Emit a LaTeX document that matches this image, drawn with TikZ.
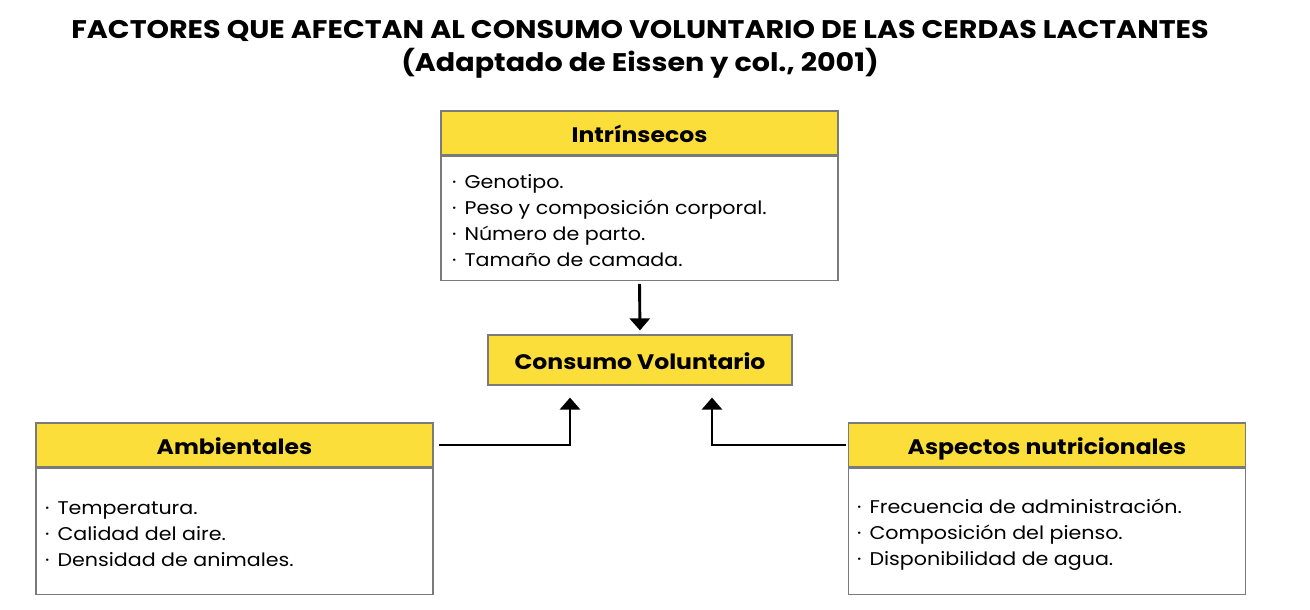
\documentclass[tikz,border=0pt]{standalone}
\usepackage{fontspec}
\setmainfont{Poppins}[FakeStretch=1.12]
\usetikzlibrary{arrows.meta,positioning}
\definecolor{Amarillo}{HTML}{FCDE3B}
\definecolor{Borde}{HTML}{7A7A7A}

\begin{document}
\begin{tikzpicture}[x=1pt,y=-1pt]
	\tikzstyle{Head}	= [rectangle, draw=Borde, fill=Amarillo, line width=1.2pt, minimum width=397pt, minimum height=44pt, inner sep=0pt, text height=19pt, text depth=0pt, font=\fontsize{21}{25}\selectfont\bfseries]
	\tikzstyle{Body}	= [rectangle, draw=Borde, fill=white, line width=1.2pt, minimum width=397pt, inner sep=0pt]
	\tikzstyle{Items}	= [anchor=west, align=left, inner sep=0pt, font=\fontsize{18.4}{26}\selectfont]
	\tikzstyle{Flecha}	= [line width=2.9pt, -{Triangle[width=20pt,length=12pt]}]
	\newcommand{\punto}{·\hspace{8pt}}

	\useasboundingbox (0,0) rectangle (1310,610);

	\node (titulo) at (640,49) [align=center, font=\fontsize{25.5}{33}\selectfont\bfseries]
		{FACTORES QUE AFECTAN AL CONSUMO VOLUNTARIO DE LAS CERDAS LACTANTES\\(Adaptado de Eissen y col., 2001)};

	% intrinsecos
	\node (intH) at (639.5,133) [Head] {Intrínsecos};
	\node (intB) [Body, below=0pt of intH, minimum height=124pt] {};
	\node (intT) at (452,221) [Items] {\punto Genotipo.\\\punto Peso y composición corporal.\\\punto Número de parto.\\\punto Tamaño de camada.};

	% consumo
	\node (cons) at (640,360) [Head, minimum width=304pt, minimum height=50pt] {Consumo Voluntario};

	% ambientales
	\node (ambH) at (234.5,445) [Head] {Ambientales};
	\node (ambB) [Body, below=0pt of ambH, minimum height=126pt] {};
	\node (ambT) at (45,534) [Items] {\punto Temperatura.\\\punto Calidad del aire.\\\punto Densidad de animales.};

	% nutricionales
	\node (nutH) at (1047,445) [Head] {Aspectos nutricionales};
	\node (nutB) [Body, below=0pt of nutH, minimum height=126pt] {};
	\node (nutT) at (857,535) [Items] {\punto Frecuencia de administración.\\\punto Composición del pienso.\\\punto Disponibilidad de agua.};

	\draw [Flecha, shorten <=3pt, shorten >=4pt] (intB.south) -- (cons.north);
	\draw [Flecha, shorten <=5pt, shorten >=12pt] (ambH.east) -| ([xshift=-70pt]cons.south);
	\draw [Flecha, shorten <=2pt, shorten >=12pt] (nutH.west) -| ([xshift=72pt]cons.south);
\end{tikzpicture}
\end{document}
